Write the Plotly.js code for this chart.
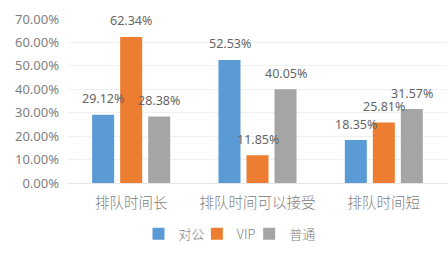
<!DOCTYPE html>
<html><head><meta charset="utf-8">
<script src="https://cdn.plot.ly/plotly-3.0.1.min.js"></script>
<style>html,body{margin:0;padding:0;background:#fff}#c{width:448px;height:255px}</style>
</head><body><div id="c"></div>
<script>
const categories = ['排队时间长', '排队时间可以接受', '排队时间短'];
const seriesNames = ['对公', 'VIP', '普通'];
const duigong = [0.2912, 0.5253, 0.1835];
const vip = [0.6234, 0.1185, 0.2581];
const putong = [0.2838, 0.4005, 0.3157];
const colors = ['#5b9bd5', '#ed7d31', '#a5a5a5'];
const values = [duigong, vip, putong];

const font = '"Noto Sans CJK SC", "Noto Sans", sans-serif';
const numFont = '"Noto Sans", sans-serif';
const legendIds = ['legend', 'legend2', 'legend3'];
const legendX = [0.186, 0.340, 0.478];

const traces = values.map((v, i) => ({
  type: 'bar', name: seriesNames[i], x: categories, y: v,
  marker: {color: colors[i]}, legend: legendIds[i],
  hoverinfo: 'none'
}));

const annotations = [];
values.forEach((v, i) => v.forEach((d, j) => annotations.push({
  x: categories[j], y: d, xref: 'x', yref: 'y', showarrow: false,
  text: (d * 100).toFixed(2) + '%', xshift: (i - 1) * 28, yshift: 16, yanchor: 'middle',
  borderpad: 0,
  font: {color: '#666666', size: 12.5, family: numFont}
})));

const layout = {
  width: 448, height: 255,
  margin: {l: 68, r: 1, t: 19, b: 72},
  barmode: 'group', bargap: 0.335, bargroupgap: 0.214,
  font: {family: font, color: '#808080'},
  xaxis: {tickfont: {size: 14.5, color: '#808080', weight: 300}, showline: false, ticks: '', ticklabelstandoff: 9},
  yaxis: {range: [0, 0.7], dtick: 0.1, tickformat: '.2%', gridcolor: '#f0f0f0', zeroline: true, zerolinecolor: '#e6e6e6',
          tickfont: {size: 13, color: '#808080', family: numFont}, ticks: '', ticklen: 0, ticklabelstandoff: 8},
  showlegend: true,
  annotations: annotations,
  paper_bgcolor: '#fff', plot_bgcolor: '#fff'
};
legendIds.forEach((id, i) => {
  layout[id] = {orientation: 'h', x: legendX[i], xanchor: 'left', y: -0.31, yanchor: 'middle',
    font: {size: 13, color: '#808080', weight: 300}, itemwidth: 30, bgcolor: 'rgba(0,0,0,0)'};
});

Plotly.newPlot('c', traces, layout, {displayModeBar: false, staticPlot: true});
</script></body></html>
